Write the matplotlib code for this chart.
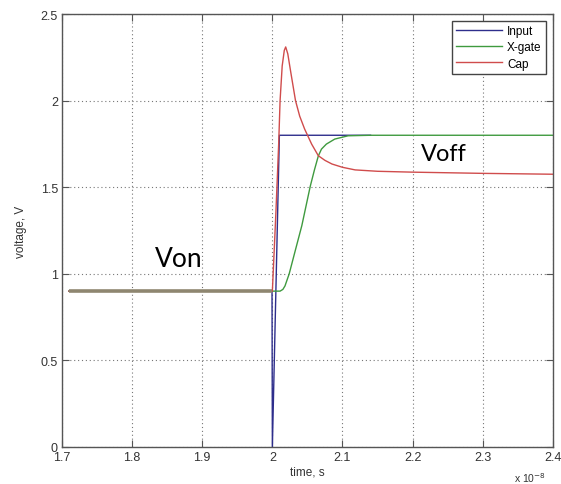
import matplotlib.pyplot as plt

# Time axis in units of 1e-8 s, voltages in V
input_t = [1.71, 1.9995, 2.0, 2.01, 2.14]
input_v = [0.9, 0.9, 0.0, 1.8, 1.8]

xgate_t = [1.71, 2.011, 2.015, 2.018, 2.024, 2.032, 2.042, 2.054, 2.06,
           2.0655, 2.07, 2.077, 2.089, 2.108, 2.14, 2.4]
xgate_v = [0.9, 0.9, 0.91, 0.93, 1.0, 1.124, 1.278, 1.505, 1.6,
           1.68, 1.72, 1.749, 1.778, 1.797, 1.8, 1.8]

cap_t = [1.71, 2.0, 2.005, 2.009, 2.011, 2.014, 2.017, 2.019, 2.022, 2.026,
         2.033, 2.039, 2.046, 2.056, 2.0655, 2.075, 2.085, 2.1, 2.118,
         2.15, 2.2, 2.3, 2.4]
cap_v = [0.9, 0.9, 1.35, 1.75, 2.0, 2.2, 2.29, 2.31, 2.27, 2.17,
         2.0, 1.91, 1.836, 1.749, 1.682, 1.655, 1.634, 1.615, 1.6,
         1.592, 1.587, 1.58, 1.575]

plt.rcParams['font.family'] = ['Liberation Sans', 'DejaVu Sans']

fig = plt.figure(figsize=(5.61, 4.85), dpi=100)
ax = fig.add_axes([0.1105, 0.0763, 0.875, 0.8927])

ax.plot(input_t, input_v, color='#2e2e8c', lw=1.0, label='Input')
ax.plot(xgate_t, xgate_v, color='#3f9a3f', lw=1.0, label='X-gate')
ax.plot(cap_t, cap_v, color='#d04c4c', lw=1.0, label='Cap')
# the three traces sit on top of each other before the step
ax.plot(cap_t[:2], cap_v[:2], color='#8e8670', lw=2.6, solid_capstyle='butt')

ax.set_xlim(1.7, 2.4)
ax.set_ylim(0, 2.5)
ax.set_xticks([1.7, 1.8, 1.9, 2.0, 2.1, 2.2, 2.3, 2.4])
ax.set_xticklabels(['1.7', '1.8', '1.9', '2', '2.1', '2.2', '2.3', '2.4'])
ax.set_yticks([0, 0.5, 1, 1.5, 2, 2.5])
ax.set_yticklabels(['0', '0.5', '1', '1.5', '2', '2.5'])
ax.tick_params(direction='in', length=5, width=0.8, top=True, right=True,
               labelsize=9, colors='#555555', labelcolor='#333333', pad=3)
ax.grid(True, linestyle=(0, (1, 2.5)), color='#777777', lw=0.8)
for sp in ax.spines.values():
    sp.set_color('#555555')
    sp.set_linewidth(1.0)

ax.set_xlabel('time, s', fontsize=8.5, color='#333333', labelpad=2)
ax.set_ylabel('voltage, V', fontsize=8.5, color='#333333', labelpad=10)
ax.text(2.345, -0.135, r'x 10$^{-8}$', fontsize=7.5, color='#333333',
        ha='left', va='top', clip_on=False)

ax.text(1.832, 1.045, 'Von', fontsize=19, family='Lato', color='black')
ax.text(2.212, 1.66, 'Voff', fontsize=17, family='Lato', color='black')

leg = ax.legend(loc='upper right', fontsize=8.5, handlelength=3.9,
                fancybox=False, framealpha=1, edgecolor='#444444',
                borderpad=0.4, labelspacing=0.35, handletextpad=0.4,
                borderaxespad=0.55)
leg.get_frame().set_linewidth(1.0)

fig.savefig('out.png', dpi=100)
